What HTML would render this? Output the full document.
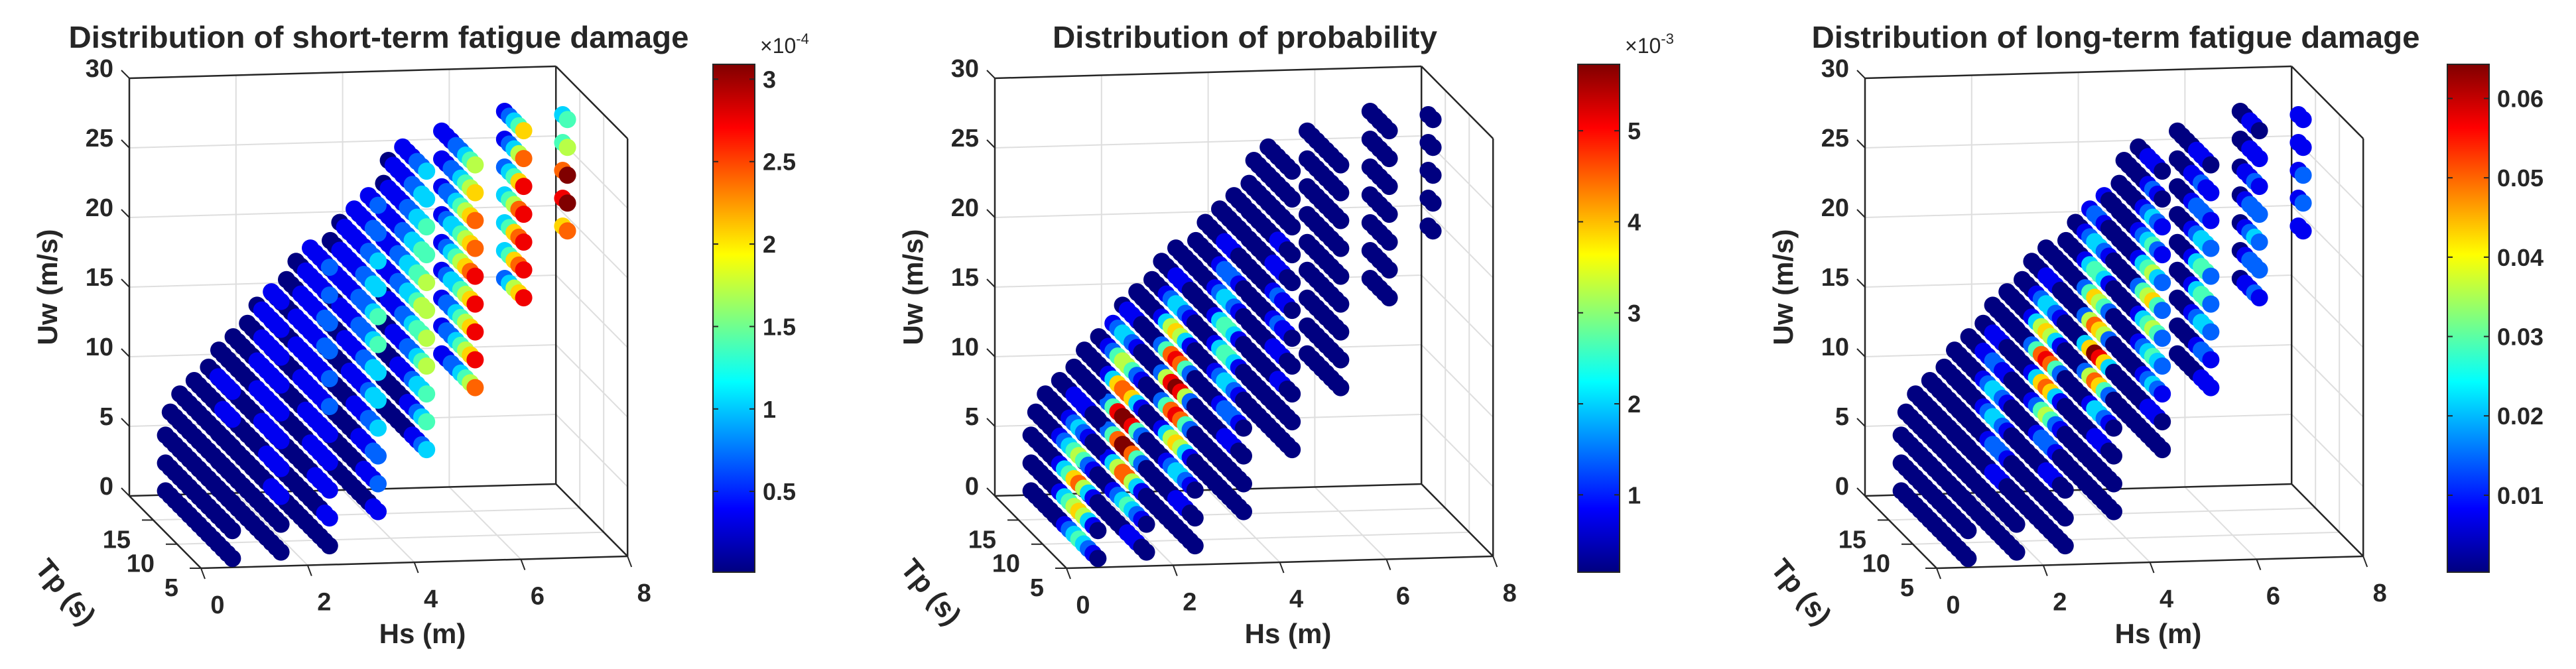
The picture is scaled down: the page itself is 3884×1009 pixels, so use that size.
<!DOCTYPE html>
<html>
<head>
<meta charset="utf-8">
<style>
html,body{margin:0;padding:0;background:#fff;}
svg{display:block;}
text{font-family:"Liberation Sans",Arial,sans-serif;fill:#262626;}
</style>
</head>
<body>
<svg id="fig" xmlns="http://www.w3.org/2000/svg" width="3884" height="1009" viewBox="0 0 3884 1009">
<defs>
<linearGradient id="jetGrad" x1="0" y1="0" x2="0" y2="1">
<stop offset="0" stop-color="#800000"/>
<stop offset="0.125" stop-color="#ff0000"/>
<stop offset="0.375" stop-color="#ffff00"/>
<stop offset="0.625" stop-color="#00ffff"/>
<stop offset="0.875" stop-color="#0000ff"/>
<stop offset="1" stop-color="#000080"/>
</linearGradient>
</defs>
<rect x="0" y="0" width="3884" height="1009" fill="#ffffff"/>
</svg>
<script>
// ---- shared grid of sea states ----
const hsLevels = [0.5, 1.5, 2.5, 3.5, 4.5, 5.5, 6.5, 7.5];
const tpStart = [4, 5, 6, 7, 8, 9, 10, 12];
const uwStart = [1, 1, 1, 3, 7, 11, 17, 21];
const uwStep = 2;

// ---- per-point colour levels (0..9), char i <-> Tp = tpStart + i, streak j <-> Uw = uwStart + 2j ----
const shortTermLevels = [
 ["000000000000000","000000000000000","000000000000000","00000000000000","000000000000","111000000","111100"],
 ["00000000000000","00000000000000","11100000000000","11110000000000","11111000000000","11111100000000","11111100000","11111000","111110","111"],
 ["0000000000000","1100000000000","1111000000000","1111100000000","1111110000000","2111111000000","2111111100000","2211111100000","2211111000","21111100","21111"],
 ["110000000000","211100000000","221110000000","322111000000","332111100000","332211110000","432221111000","432221111100","33221111100","322111110","221111","211"],
 ["3211000000","4321100000","4332111000","5432211100","5443221110","5543322111","5443322111","4433221111","4332211110","332211110","322111"],
 ["75432211","86543221","86543221","86543321","87654321","76543321","76543221","65432211","54322111"],
 ["86532","87643","87643","87543","86432","75321","64321"],
 ["76","98","97","54","43"]
];
const probabilityLevels = [
 ["012343210000000","013565431000000","013576431000000","01245432100000","001232100000","001111000","000000"],
 ["00111000000000","01234321000000","01357753100000","02479974200000","02489984200000","01367763100000","01245542100","00123321","001110","000"],
 ["0000000000000","0011100000000","0123321000000","0135653100000","0247874200000","0258985200000","0247874200000","0135653100000","0123321000","00111000","00000"],
 ["000000000000","000000000000","001110000000","012221000000","012332100000","013443100000","013443100000","012332100000","01222100000","001110000","000000","000"],
 ["0000000000","0000000000","0011000000","0011100000","0112100000","0112100000","0011100000","0011000000","0000000000","000000000","000000"],
 ["00000000","00000000","00000000","00000000","00000000","00000000","00000000","00000000","00000000"],
 ["00000","00000","00000","00000","00000","00000","00000"],
 ["00","00","00","00","00"]
];
const longTermLevels = [
 ["000000000000000","000000000000000","000000000000000","00000000000000","000000000000","000000000","000000"],
 ["00000000000000","00000000000000","00011100000000","00122210000000","00123321000000","00123321000000","00112211000","00011100","000000","000"],
 ["0000000000000","0000000000000","0011100000000","0012221000000","0124542100000","0136763100000","0247874200000","0135653100000","0123321000","00111000","00000"],
 ["000000000000","000000000000","001110000000","012331000000","024675200000","036896300000","025675200000","024564200000","01344310000","012332100","001221","001"],
 ["0000000000","0111000000","1232100000","2343210000","2454310000","2465420000","2354310000","1243210000","1232100000","012100000","011100"],
 ["11100000","12210000","23321000","24431000","24431000","23321000","12221000","11211000","01110000"],
 ["12110","22210","23210","22210","12110","11100","01100"],
 ["11","21","21","11","11"]
];

// ---- colorbar ranges & ticks ----
const cbRange1 = [0.01, 3.09];
const cbTicks1 = [0.5, 1, 1.5, 2, 2.5, 3];
const cbLabels1 = ["0.5", "1", "1.5", "2", "2.5", "3"];
const cbRange2 = [0.15, 5.73];
const cbTicks2 = [1, 2, 3, 4, 5];
const cbLabels2 = ["1", "2", "3", "4", "5"];
const cbRange3 = [0.0003, 0.0643];
const cbTicks3 = [0.01, 0.02, 0.03, 0.04, 0.05, 0.06];
const cbLabels3 = ["0.01", "0.02", "0.03", "0.04", "0.05", "0.06"];

// ---- axis ticks ----
const uwTicks = [0, 5, 10, 15, 20, 25, 30];
const hsTicks = [0, 2, 4, 6, 8];
const tpTicks = [15, 10, 5];
const titles = ["Distribution of short-term fatigue damage", "Distribution of probability", "Distribution of long-term fatigue damage"];
const exponents = ["-4", "-3", ""];

const NS = "http://www.w3.org/2000/svg";
const svg = document.getElementById("fig");

function el(tag, attrs, parent) {
  const e = document.createElementNS(NS, tag);
  for (const k in attrs) e.setAttribute(k, attrs[k]);
  (parent || svg).appendChild(e);
  return e;
}
function clamp(v) { return Math.max(0, Math.min(1, v)); }
function jet(t) {
  const r = clamp(1.5 - Math.abs(4 * t - 3));
  const g = clamp(1.5 - Math.abs(4 * t - 2));
  const b = clamp(1.5 - Math.abs(4 * t - 1));
  return "rgb(" + Math.round(r * 255) + "," + Math.round(g * 255) + "," + Math.round(b * 255) + ")";
}

// projection (Hs, Tp, Uw) -> screen
function px(ox, hs, tp, uw) { return ox + 195 + 80.4 * hs + 7.2 * (20 - tp); }
function py(hs, tp, uw) { return 748 - 2.25 * hs - 21 * uw + 7.27 * (20 - tp); }

function line(g, ox, a, b, stroke, w, name) {
  const l = el("line", { x1: px(ox, a[0], a[1], a[2]), y1: py(a[0], a[1], a[2]), x2: px(ox, b[0], b[1], b[2]), y2: py(b[0], b[1], b[2]), stroke: stroke, "stroke-width": w }, g);
  
  
  return l;
}

const panelOffsets = [0, 1305, 2617];
const cbX = [1075, 2379, 3690];
const titleCenter = [571, 1877, 3190];
const titleWidth = [935, 580, 917];
const levelSets = [shortTermLevels, probabilityLevels, longTermLevels];
const ranges = [cbRange1, cbRange2, cbRange3];
const cbTickSets = [cbTicks1, cbTicks2, cbTicks3];
const cbLabelSets = [cbLabels1, cbLabels2, cbLabels3];

for (let p = 0; p < 3; p++) {
  const ox = panelOffsets[p];
  const g = el("g", {});
  
  

  const grid = el("g", {}, g);
  
  
  const gc = "#dedede";
  for (const u of [5, 10, 15, 20, 25]) {
    line(grid, ox, [0, 20, u], [8, 20, u], gc, 2, 'back-wall-gridline');
    line(grid, ox, [8, 20, u], [8, 5, u], gc, 2, 'side-wall-gridline');
  }
  for (const h of [2, 4, 6]) {
    line(grid, ox, [h, 20, 0], [h, 20, 30], gc, 2, 'back-wall-gridline');
    line(grid, ox, [h, 20, 0], [h, 5, 0], gc, 2, 'floor-gridline');
  }
  for (const t of [15, 10]) {
    line(grid, ox, [8, t, 0], [8, t, 30], gc, 2, 'side-wall-gridline');
    line(grid, ox, [0, t, 0], [8, t, 0], gc, 2, 'floor-gridline');
  }

  const box = el("g", {}, g);
  
  
  const bc = "#262626";
  const edges = [
    [[0,20,30],[8,20,30]], [[0,20,0],[0,20,30]], [[0,20,0],[8,20,0]], [[8,20,0],[8,20,30]],
    [[8,20,30],[8,5,30]], [[8,5,0],[8,5,30]], [[0,5,0],[8,5,0]], [[0,20,0],[0,5,0]], [[8,20,0],[8,5,0]]
  ];
  for (const e of edges) line(box, ox, e[0], e[1], bc, 2.5, 'axis-edge');

  for (const u of uwTicks) {
    const x = px(ox, 0, 20, u), y = py(0, 20, u);
    const tk = el("line", { x1: x, y1: y, x2: x - 12, y2: y - 12, stroke: bc, "stroke-width": 2 }, g);
    
    
    const tl = el("text", { x: x - 24, y: y - 2, "font-size": 38, "font-weight": "bold", "text-anchor": "end" }, g);
    tl.textContent = String(u);
    
    
  }
  for (const h of hsTicks) {
    const x = px(ox, h, 5, 0), y = py(h, 5, 0);
    const tk = el("line", { x1: x, y1: y, x2: x + 6, y2: y + 16, stroke: bc, "stroke-width": 2 }, g);
    
    
    const tl = el("text", { x: x + 25, y: y + 68, "font-size": 38, "font-weight": "bold", "text-anchor": "middle" }, g);
    tl.textContent = String(h);
    
    
  }
  for (const t of tpTicks) {
    const x = px(ox, 0, t, 0), y = py(0, t, 0);
    const tk = el("line", { x1: x, y1: y, x2: x - 17, y2: y, stroke: bc, "stroke-width": 2 }, g);
    
    
    const tl = el("text", { x: x - 34, y: y + 42, "font-size": 38, "font-weight": "bold", "text-anchor": "end" }, g);
    tl.textContent = String(t);
    
    
  }

  const hsL = el("text", { x: ox + 637, y: 970, "font-size": 42, "font-weight": "bold", "text-anchor": "middle" }, g);
  hsL.textContent = "Hs (m)";
  
  
  const uwL = el("text", { x: 0, y: 0, "font-size": 42, "font-weight": "bold", "text-anchor": "middle", transform: "translate(" + (ox + 86) + ",433) rotate(-90)" }, g);
  uwL.textContent = "Uw (m/s)";
  
  
  const tpL = el("text", { x: 0, y: 0, "font-size": 42, "font-weight": "bold", "text-anchor": "middle", transform: "translate(" + (ox + 88) + ",902) rotate(50)" }, g);
  tpL.textContent = "Tp (s)";
  
  

  const tt = el("text", { x: titleCenter[p], y: 72, "font-size": 46, "font-weight": "bold", "text-anchor": "middle", textLength: titleWidth[p], lengthAdjust: "spacingAndGlyphs" }, g);
  tt.textContent = titles[p];
  
  

  const levels = levelSets[p];
  const rng = ranges[p];
  const pts = [];
  for (let i = 0; i < hsLevels.length; i++) {
    const streaks = levels[i];
    for (let j = 0; j < streaks.length; j++) {
      const uw = uwStart[i] + uwStep * j;
      const s = streaks[j];
      for (let k = 0; k < s.length; k++) {
        const lvl = parseInt(s[k], 10);
        const val = rng[0] + lvl / 9 * (rng[1] - rng[0]);
        pts.push({ hs: hsLevels[i], tp: tpStart[i] + k, uw: uw, v: val });
      }
    }
  }
  pts.sort((a, b) => (b.tp - a.tp) || (a.hs - b.hs) || (a.uw - b.uw));
  const dots = el("g", {}, g);
  
  
  for (const q of pts) {
    const t = (q.v - rng[0]) / (rng[1] - rng[0]);
    const c = el("circle", { cx: px(ox, q.hs, q.tp, q.uw), cy: py(q.hs, q.tp, q.uw), r: 13, fill: jet(t) }, dots);
    
    
  }

  const cx0 = cbX[p], cw = 63, cy0 = 97, ch = 766;
  const cb = el("rect", { x: cx0, y: cy0, width: cw, height: ch, fill: "url(#jetGrad)", stroke: bc, "stroke-width": 2 }, g);
  
  
  const ticks = cbTickSets[p], labs = cbLabelSets[p];
  for (let i = 0; i < ticks.length; i++) {
    const y = cy0 + ch * (1 - (ticks[i] - rng[0]) / (rng[1] - rng[0]));
    const t1 = el("line", { x1: cx0 + cw - 8, y1: y, x2: cx0 + cw, y2: y, stroke: bc, "stroke-width": 2 }, g);
    
    
    const t2 = el("line", { x1: cx0, y1: y, x2: cx0 + 8, y2: y, stroke: bc, "stroke-width": 2 }, g);
    
    
    const tl = el("text", { x: cx0 + cw + 12, y: y + 13, "font-size": 36, "font-weight": "bold" }, g);
    tl.textContent = labs[i];
    
    
  }
  if (exponents[p]) {
    const ex = el("text", { x: cx0 + 71, y: 80, "font-size": 32 }, g);
    
    
    const s1 = el("tspan", {}, ex);
    s1.textContent = "\u00d710";
    const s2 = el("tspan", { dy: -14, "font-size": 22 }, ex);
    s2.textContent = exponents[p];
  }
}
</script>
</body>
</html>
